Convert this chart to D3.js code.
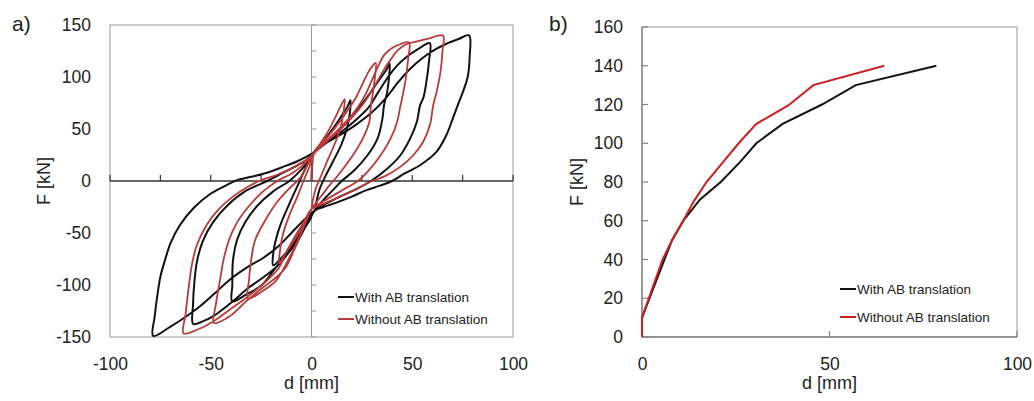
<!DOCTYPE html>
<html><head><meta charset="utf-8">
<script src="https://cdn.jsdelivr.net/npm/d3@7"></script>
<style>
html,body{margin:0;padding:0;background:#fff;}
svg{display:block;font-family:"Liberation Sans",Arial,sans-serif;}
</style></head>
<body>
<svg id="chart" width="1034" height="401"></svg>
<script>
// ---------- DATA ----------
const seriesNames = ["With AB translation", "Without AB translation"];
// Panel a: hysteresis d [mm], F [kN]
const hystWithAB = [
 [0,0],[0.3,15],[1,27],
 [5,36],[9,46],[13,57],[16,66],[18,72],[19.3,77.6],
 [19,65],[17.5,50],[15,36],[11,20],[7,5],[4,-8],[2.5,-20],[2,-27],
 [-2,-38],[-6,-52],[-10,-63],[-14,-72],[-19,-81],
 [-19,-70],[-17.5,-55],[-15,-40],[-11,-22],[-7,-5],[-4,8],[-1,20],[1,27],
 [6,35],[12,45],[17,56],[22,67],[27,79],[31,90],[35,101],[37.5,108],[38.8,113],
 [38.5,100],[37.5,85],[36,73],[35.2,60],[32.8,41],[27.9,25],[21.4,10.6],[15,0],[10,-10],[6,-18],[2,-27],
 [-2,-40],[-6,-55],[-11,-68],[-17.9,-83.7],[-24.4,-99.7],[-32.5,-109.3],[-39.3,-115.7],
 [-39.3,-100],[-39,-77],[-37,-57],[-33,-40],[-27,-24],[-19,-10],[-11,0],[-6,9],[-2,18],[1,27],
 [7,36],[14,46],[21,57],[28,70],[33,85],[38,100],[42,110],[47,119],[53,127],[58.7,132.5],
 [58.3,115],[57,95],[55.5,80],[53.9,73],[52.3,57],[49,41],[44.2,25],[37.7,12],[29.5,0],[22,-8],[14,-15],[8,-21],[2,-27],
 [-1,-38],[-5,-50],[-10,-65],[-16.2,-80.4],[-24.4,-93.3],[-32.5,-104.5],[-39,-115.7],[-48.7,-130],[-54,-135],[-58.7,-137.5],
 [-58.8,-119],[-58.1,-96.5],[-56.8,-77],[-54,-58],[-49,-40],[-42,-24],[-33,-10],[-22,0],[-14,8],[-7,15],[-2,21],[1,27],
 [6,35],[14,44],[22,54],[30,66],[37,80],[43,95],[49,108],[55,118],[61,126],[67,132],[73,136.5],[78.2,140],
 [78.5,120],[77.5,100],[75,85],[72.6,73],[70.1,60],[66.9,44],[62,28],[54,15.4],[46,7],[40,0],[34,-4.5],[27,-9],[20,-15],[12,-21],[6,-25],[2,-28],
 [-4,-38],[-10,-50],[-16,-62],[-24,-74],[-32,-83],[-40,-94],[-48,-108],[-55,-120],[-62,-130],[-70,-140],[-78.6,-149],
 [-77.8,-130],[-76.5,-110],[-75,-92],[-73,-78],[-70,-60],[-65.5,-43],[-58.5,-26],[-50.3,-12.5],[-42.2,-4],[-37.3,0.5],[-30,4],[-22,8],[-15,13],[-7,19],[-2,24],[1,27]
];
const hystWithoutAB = [
 [0,0],[0.3,15],[1,26],
 [4,35],[8,47],[11,58],[13.5,68],[15,74],[16.5,78.8],
 [16,68],[14.5,52],[12,38],[8,20],[5,6],[2,-8],[0.5,-20],[0,-27],
 [-3,-38],[-7,-52],[-11,-64],[-14,-73],[-16,-79],
 [-15.5,-65],[-14,-50],[-11,-33],[-7,-15],[-4,0],[-1,14],[1,26],
 [5,36],[10,47],[14,57],[18,68],[22,80],[25,92],[28,104],[30,110],[31.9,113.5],
 [31.5,100],[30.5,85],[29.5,73],[28.7,57],[25.5,41],[20.6,25],[13.3,5.8],[9,-4],[5,-14],[1,-24],[0,-27],
 [-3,-40],[-6,-54],[-10,-70],[-14.6,-86.9],[-17.9,-96.5],[-24.4,-106],[-31.5,-113],
 [-31,-95],[-30,-77],[-28,-57],[-23,-38],[-17,-20],[-11,-7],[-6,2],[-3,12],[1,26],
 [6,36],[12,47],[18,59],[23,71],[27,84],[30,97],[33,110],[36,121],[40,128],[44,131.5],[48.4,133.3],
 [48,118],[46.5,95],[45,80],[44.2,73],[42.5,57],[39.3,41],[34.4,25],[27.9,9],[23,0],[16,-8],[9,-16],[3,-23],[0,-27],
 [-3,-40],[-6,-55],[-9,-68],[-13,-83.7],[-17.9,-93.3],[-24.4,-102.9],[-32.5,-115.7],[-40.6,-130],[-48.5,-136.5],
 [-47.5,-119],[-45.5,-96.5],[-43.8,-77],[-41,-57],[-37,-40],[-31,-24],[-24,-10],[-17,0],[-10,7],[-5,14],[-1,22],[1,26],
 [7,37],[14,49],[20,61],[26,75],[31,90],[35,104],[39,116],[43,126],[47,131.5],[52,134],[58,137],[65.3,139.7],
 [65,125],[64,105],[62,85],[60.4,73],[58.8,54],[55.5,38],[50.6,25],[44.2,13.8],[36,4.2],[30,0],[22,-8],[14,-15],[6,-22],[0,-27],
 [-4,-40],[-9,-56],[-13,-70],[-16.2,-83.7],[-24.4,-99.7],[-32.5,-112.5],[-40.6,-123.7],[-48.7,-135],[-56.8,-143],[-63.5,-146.5],
 [-62.5,-128],[-61,-103],[-59.3,-80],[-57,-62],[-52,-42],[-46,-27],[-39,-15],[-32,-6],[-26,0],[-17,6],[-9,13],[-3,20],[1,26]
];
// Panel b: envelope curves
const envWithAB = [[0,0],[0,10],[2,20],[6,40],[8,50],[11,60],[15.5,71],[21,80],[26,90],[30.5,100],[37.5,110],[48,120],[57,130],[78.5,140]];
const envWithoutAB = [[0,0],[0,10],[2,21],[5.5,40],[8,50],[11,60],[13.8,70],[17.2,80],[21.5,90],[26,100.5],[30.5,110],[39,119.5],[45.7,130],[64.6,140]];
// Ticks
const xTicksA = [-100,-50,0,50,100];
const yTicksA = [-150,-100,-50,0,50,100,150];
const minorTicksA = [-100,-75,-50,-25,25,50,75,100];
const minorTicksAY = [-150,-125,-100,-75,-50,-25,25,50,75,100,125,150];
const xTicksB = [0,50,100];
const yTicksB = [0,20,40,60,80,100,120,140,160];

// ---------- DRAW ----------
const svg = d3.select("#chart");
svg.append("rect").attr("width",1034).attr("height",401).attr("fill","#fff");
const black = "#111", redA = "#b83a3a", redB = "#cc1f1f", frame = "#9a9a9a";
const labelSize = 17.5, titleSize = 18;
const fmt = d => String(d);

// Panel a
const xa = d3.scaleLinear().domain([-100,100]).range([110,513]);
const ya = d3.scaleLinear().domain([-150,150]).range([337,25]);
const ga = svg.append("g");
ga.append("rect").attr("x",xa(-100)).attr("y",ya(150)).attr("width",xa(100)-xa(-100)).attr("height",ya(-150)-ya(150))
  .attr("fill","none").attr("stroke",frame).attr("stroke-width",1);
ga.append("line").attr("x1",xa(0)).attr("x2",xa(0)).attr("y1",ya(150)).attr("y2",ya(-150)).attr("stroke",frame).attr("stroke-width",1);
ga.selectAll(".vt").data(minorTicksAY).enter().append("line")
  .attr("x1",xa(0)).attr("x2",xa(0)+5).attr("y1",d=>ya(d)).attr("y2",d=>ya(d)).attr("stroke",frame);
ga.append("line").attr("x1",xa(-100)).attr("x2",xa(100)).attr("y1",ya(0)).attr("y2",ya(0)).attr("stroke","#333").attr("stroke-width",1.3);
ga.selectAll(".ht").data(minorTicksA).enter().append("line")
  .attr("x1",d=>xa(d)).attr("x2",d=>xa(d)).attr("y1",ya(0)).attr("y2",ya(0)-6).attr("stroke","#333").attr("stroke-width",1.2);
const axYa = ga.append("g").attr("transform",`translate(${xa(-100)},0)`)
  .call(d3.axisLeft(ya).tickValues(yTicksA).tickFormat(fmt).tickSize(0).tickPadding(19));
const axXa = ga.append("g").attr("transform",`translate(0,${ya(-150)})`)
  .call(d3.axisBottom(xa).tickValues(xTicksA).tickFormat(fmt).tickSize(0).tickPadding(21));
[axYa,axXa].forEach(g=>{g.select(".domain").remove();g.selectAll("text").attr("font-size",labelSize).attr("fill","#222").attr("font-family","Liberation Sans, Arial, sans-serif");});
svg.append("clipPath").attr("id","clipA").append("rect")
  .attr("x",xa(-100)).attr("y",ya(150)).attr("width",xa(100)-xa(-100)).attr("height",ya(-150)-ya(150));
const lineA = d3.line().x(d=>xa(d[0])).y(d=>ya(d[1])).curve(d3.curveCatmullRom.alpha(0.5));
const ca = ga.append("g").attr("clip-path","url(#clipA)");
ca.append("path").datum(hystWithAB).attr("d",lineA).attr("fill","none").attr("stroke",black).attr("stroke-width",2);
ca.append("path").datum(hystWithoutAB).attr("d",lineA).attr("fill","none").attr("stroke",redA).attr("stroke-width",1.8);
ga.append("text").attr("x",xa(0)).attr("y",389).attr("text-anchor","middle").attr("font-size",titleSize).attr("fill","#222").text("d [mm]");
ga.append("text").attr("transform",`translate(50,${ya(0)}) rotate(-90)`).attr("text-anchor","middle").attr("font-size",titleSize).attr("fill","#222").text("F [kN]");
ga.append("text").attr("x",12).attr("y",31).attr("font-size",21).attr("fill","#222").text("a)");
const legA = ga.append("g");
[[black,297],[redA,319]].forEach((c,i)=>{
  legA.append("line").attr("x1",338).attr("x2",354).attr("y1",c[1]).attr("y2",c[1]).attr("stroke",c[0]).attr("stroke-width",2);
  legA.append("text").attr("x",355).attr("y",c[1]).attr("dy","0.35em").attr("font-size",13.5).attr("fill","#222").text(seriesNames[i]);
});

// Panel b
const xb = d3.scaleLinear().domain([0,100]).range([642,1017]);
const yb = d3.scaleLinear().domain([0,160]).range([337,27]);
const gb = svg.append("g");
gb.append("rect").attr("x",xb(0)).attr("y",yb(160)).attr("width",xb(100)-xb(0)).attr("height",yb(0)-yb(160))
  .attr("fill","none").attr("stroke",frame).attr("stroke-width",1);
gb.append("line").attr("x1",xb(0)).attr("x2",xb(100)).attr("y1",yb(0)).attr("y2",yb(0)).attr("stroke","#808080").attr("stroke-width",1.3);
gb.append("line").attr("x1",xb(0)).attr("x2",xb(0)).attr("y1",yb(0)).attr("y2",yb(160)).attr("stroke","#808080").attr("stroke-width",1.3);
gb.selectAll(".bt").data(xTicksB).enter().append("line")
  .attr("x1",d=>xb(d)).attr("x2",d=>xb(d)).attr("y1",yb(0)).attr("y2",yb(0)-6).attr("stroke","#808080").attr("stroke-width",1.2);
gb.selectAll(".lt").data(yTicksB).enter().append("line")
  .attr("x1",xb(0)).attr("x2",xb(0)+6).attr("y1",d=>yb(d)).attr("y2",d=>yb(d)).attr("stroke","#808080").attr("stroke-width",1.2);
const axYb = gb.append("g").attr("transform",`translate(${xb(0)},0)`)
  .call(d3.axisLeft(yb).tickValues(yTicksB).tickFormat(fmt).tickSize(0).tickPadding(19));
const axXb = gb.append("g").attr("transform",`translate(0,${yb(0)})`)
  .call(d3.axisBottom(xb).tickValues(xTicksB).tickFormat(fmt).tickSize(0).tickPadding(21));
[axYb,axXb].forEach(g=>{g.select(".domain").remove();g.selectAll("text").attr("font-size",labelSize).attr("fill","#222").attr("font-family","Liberation Sans, Arial, sans-serif");});
const lineB = d3.line().x(d=>xb(d[0])).y(d=>yb(d[1]));
gb.append("path").datum(envWithAB).attr("d",lineB).attr("fill","none").attr("stroke",black).attr("stroke-width",2);
gb.append("path").datum(envWithoutAB).attr("d",lineB).attr("fill","none").attr("stroke",redB).attr("stroke-width",2);
gb.append("text").attr("x",xb(50)).attr("y",389).attr("text-anchor","middle").attr("font-size",titleSize).attr("fill","#222").text("d [mm]");
gb.append("text").attr("transform",`translate(583,${yb(80)}) rotate(-90)`).attr("text-anchor","middle").attr("font-size",titleSize).attr("fill","#222").text("F [kN]");
gb.append("text").attr("x",549).attr("y",31).attr("font-size",21).attr("fill","#222").text("b)");
const legB = gb.append("g");
[[black,289],[redB,317]].forEach((c,i)=>{
  legB.append("line").attr("x1",840).attr("x2",856).attr("y1",c[1]).attr("y2",c[1]).attr("stroke",c[0]).attr("stroke-width",2);
  legB.append("text").attr("x",857).attr("y",c[1]).attr("dy","0.35em").attr("font-size",13.5).attr("fill","#222").text(seriesNames[i]);
});
</script>
</body></html>
